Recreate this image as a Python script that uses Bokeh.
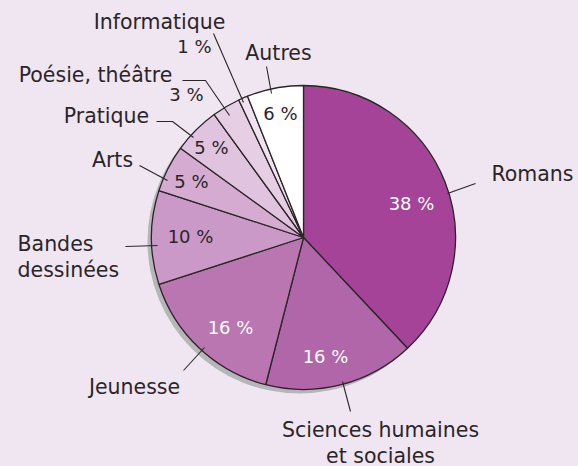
import math
from bokeh.plotting import figure
from bokeh.models import Range1d, ColumnDataSource
from bokeh.embed import file_html
from bokeh.resources import INLINE
from bokeh.core.properties import value

# ---------------- data ----------------
categories = ["Romans", "Sciences humaines et sociales", "Jeunesse", "Bandes dessinées",
              "Arts", "Pratique", "Poésie, théâtre", "Informatique", "Autres"]
shares = [38, 16, 16, 10, 5, 5, 3, 1, 6]
name_lines = [["Romans"], ["Sciences humaines", "et sociales"], ["Jeunesse"],
              ["Bandes", "dessinées"], ["Arts"], ["Pratique"], ["Poésie, théâtre"],
              ["Informatique"], ["Autres"]]

# ---------------- styles / layout ----------------
colors = ["#a44398", "#b066a8", "#b976b0", "#ca99c7", "#d5abd1",
          "#e0c4df", "#e6cee5", "#f0e2ef", "#ffffff"]
pct_colors = ["#ffffff", "#ffffff", "#ffffff", "#2b2527", "#2b2527",
              "#2b2527", "#2b2527", "#2b2527", "#2b2527"]
BG = "#f0e6f2"
INK = "#2b2527"
W, H = 578, 466
CX, CY = 303, 237      # pie centre in window pixels
R = 152
TXT_SHIFT = 7          # renderer puts alphabetic baseline ~7px lower

def dx(px):
    return px - CX

def dy(py):
    return CY - py

# percentage label anchors (window px: centre x, baseline y)
pct_pos = [(411, 210), (325, 363), (230, 334), (190, 243), (191, 188),
           (211, 154), (186, 101), (194, 53), (280, 120)]
# name label anchors (window px: x, baseline of first line, align)
name_pos = [(532, 180, "center"), (380, 436, "center"), (134, 393, "center"),
            (17, 250, "left"), (112, 166, "center"), (106, 122, "center"),
            (95, 81, "center"), (159, 28, "center"), (278, 59, "center")]
LINE_H = 26
# leader lines (window px)
leaders = [[(447, 193), (475, 183)],
           [(342, 381), (350, 411)],
           [(204, 347), (183, 370)],
           [(125, 246), (157, 245)],
           [(139, 165), (167, 180)],
           [(156, 121), (172, 121), (193, 137)],
           [(182, 80), (205, 80), (229, 115)],
           [(213, 33), (243, 102)],
           [(266, 66), (271, 93)]]

# ---------------- wedges from data ----------------
total = float(sum(shares))
starts, ends = [], []
cum = 0.0
for v in shares:
    starts.append(math.pi / 2 - 2 * math.pi * cum / total)
    cum += v
    ends.append(math.pi / 2 - 2 * math.pi * cum / total)

src = ColumnDataSource(dict(cat=categories, share=shares, start=starts, end=ends, color=colors))

p = figure(width=W, height=H, output_backend="svg", toolbar_location=None,
           x_range=Range1d(-CX, W - CX), y_range=Range1d(CY - H, CY),
           x_axis_location=None, y_axis_location=None, min_border=0,
           background_fill_color=BG, border_fill_color=BG, outline_line_color=None)
p.grid.visible = False

# shadow
p.wedge(x=-4, y=-4, radius=R, start_angle=0, end_angle=2 * math.pi,
        fill_color="#b4b6b8", line_color=None)

p.wedge(x=0, y=0, radius=R, start_angle="start", end_angle="end", direction="clock",
        fill_color="color", line_color=INK, line_width=1.3, source=src)

# leader lines
p.multi_line(xs=[[dx(a) for a, b in seg] for seg in leaders],
             ys=[[dy(b) for a, b in seg] for seg in leaders],
             line_color=INK, line_width=1.1)

# percentage labels
p.text(x=[dx(a) for a, b in pct_pos], y=[dy(b - TXT_SHIFT) for a, b in pct_pos],
       text=[f"{v} %" for v in shares], text_color=pct_colors,
       text_align="center", text_baseline="alphabetic",
       text_font=value("DejaVu Sans"), text_font_size="18px")

# name labels
nx, ny, nt, na = [], [], [], []
for lines, (x0, y0, al) in zip(name_lines, name_pos):
    for k, t in enumerate(lines):
        nx.append(dx(x0))
        ny.append(dy(y0 + k * LINE_H - TXT_SHIFT))
        nt.append(t)
        na.append(al)
p.text(x=nx, y=ny, text=nt, text_align=na, text_baseline="alphabetic",
       text_color=INK, text_font=value("DejaVu Sans"), text_font_size="20.5px")

html = file_html(p, INLINE)
html = html.replace("</head>", "<style>html,body{background:%s;}</style></head>" % BG, 1)
open("out.html", "w").write(html)
